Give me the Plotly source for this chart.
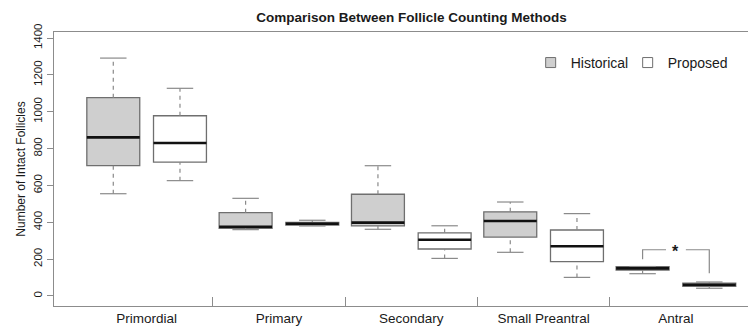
import plotly.graph_objects as go

categories = ["Primordial", "Primary", "Secondary", "Small Preantral", "Antral"]

hist_lower = [555, 360, 362, 237, 121]
hist_q1 = [707, 367, 380, 320, 141]
hist_median = [861, 376, 398, 407, 150]
hist_q3 = [1076, 452, 552, 457, 159]
hist_upper = [1291, 530, 707, 510, 160]

prop_lower = [626, 380, 204, 101, 42]
prop_q1 = [727, 385, 255, 186, 52]
prop_median = [830, 392, 305, 270, 61]
prop_q3 = [978, 400, 343, 358, 70]
prop_upper = [1127, 411, 381, 447, 76]

y_ticks = [0, 200, 400, 600, 800, 1000, 1200, 1400]

# significance bracket for Antral: left end, top, right end
sig_bracket = [199, 251, 123]
sig_label = "*"

FONT = "Liberation Sans, Arial, Helvetica, sans-serif"
EDGE = "#6f6f6f"
WHISK = "#8a8a8a"
FRAME = "#8c8c8c"
TEXT = "#1a1a1a"

OFF = 0.252
BW = 0.40
CAP = 0.10

# the page body adds an 8px offset; margins compensate for it
PAGE = 8

series = [
    ("Historical", "#cfcfcf", -OFF, "legend", hist_lower, hist_q1, hist_median, hist_q3, hist_upper),
    ("Proposed", "#ffffff", OFF, "legend2", prop_lower, prop_q1, prop_median, prop_q3, prop_upper),
]

fig = go.Figure()

for name, fill, off, leg, lo, q1, med, q3, up in series:
    pos = [i + off for i in range(len(categories))]
    wx, wy, cx, cy, mx, my = [], [], [], [], [], []
    for p, a, b, c, d, e in zip(pos, lo, q1, med, q3, up):
        wx += [p, p, None, p, p, None]
        wy += [a, b, None, d, e, None]
        cx += [p - CAP, p + CAP, None, p - CAP, p + CAP, None]
        cy += [a, a, None, e, e, None]
        mx += [p - BW / 2, p + BW / 2, None]
        my += [c, c, None]
    fig.add_trace(go.Scatter(x=wx, y=wy, mode="lines", showlegend=False, hoverinfo="skip",
                             line=dict(color=WHISK, width=1.2, dash="4px,4px")))
    fig.add_trace(go.Scatter(x=cx, y=cy, mode="lines", showlegend=False, hoverinfo="skip",
                             line=dict(color=WHISK, width=1.2)))
    fig.add_trace(go.Bar(x=pos, base=q1, y=[b - a for a, b in zip(q1, q3)], width=BW,
                         marker=dict(color=fill, line=dict(color=EDGE, width=1.3)),
                         showlegend=False, name=name))
    fig.add_trace(go.Scatter(x=mx, y=my, mode="lines", showlegend=False, hoverinfo="skip",
                             line=dict(color="#111111", width=2.6)))
    fig.add_trace(go.Scatter(x=[None], y=[None], mode="markers", name=name, legend=leg,
                             marker=dict(symbol="square", size=10, color=fill,
                                         line=dict(color=EDGE, width=1))))

ai = len(categories) - 1
gap = 0.075
bx = [ai - OFF, ai - OFF, ai - gap, None, ai + gap, ai + OFF, ai + OFF]
by = [sig_bracket[0], sig_bracket[1], sig_bracket[1], None, sig_bracket[1], sig_bracket[1], sig_bracket[2]]
fig.add_trace(go.Scatter(x=bx, y=by, mode="lines", showlegend=False, hoverinfo="skip",
                         line=dict(color=WHISK, width=1.2)))
fig.add_annotation(x=ai, y=sig_bracket[1], text="<b>" + sig_label + "</b>", showarrow=False,
                   font=dict(size=16, color=TEXT, family=FONT), yanchor="middle", yshift=-2)

legend_style = dict(orientation="h", xanchor="left", y=0.887, yanchor="middle",
                    font=dict(size=14, color=TEXT, family=FONT), bgcolor="rgba(0,0,0,0)",
                    itemwidth=30, tracegroupgap=0)

fig.update_layout(
    width=756, height=330, autosize=False,
    margin=dict(l=54 - PAGE, r=PAGE, t=32 - PAGE, b=24 + PAGE, autoexpand=False),
    paper_bgcolor="white", plot_bgcolor="white",
    font=dict(family=FONT, color=TEXT),
    barmode="overlay",
    title=dict(text="<b>Comparison Between Follicle Counting Methods</b>",
               x=(411.5 - PAGE) / 756, xref="container", xanchor="center",
               y=1 - (17 - PAGE) / 330, yref="container", yanchor="middle", automargin=False,
               font=dict(size=13.5, color=TEXT, family=FONT)),
    legend=dict(x=0.679, **legend_style),
    legend2=dict(x=0.679 + 97 / 702, **legend_style),
    xaxis=dict(range=[-0.70, 4.605], tickmode="array", tickvals=list(range(len(categories))),
               ticktext=categories, ticks="", showline=True, mirror=True, linecolor=FRAME,
               linewidth=1, showgrid=False, zeroline=False, automargin=False,
               tickfont=dict(size=13.5, color=TEXT, family=FONT),
               minor=dict(tickmode="array", tickvals=[i + 0.5 for i in range(len(categories) - 1)],
                          ticks="inside", ticklen=9, tickcolor=FRAME, tickwidth=1, showgrid=False)),
    yaxis=dict(range=[-54.3, 1432.6], tickmode="array", tickvals=y_ticks,
               ticks="outside", ticklen=6, tickcolor=FRAME, showline=True, mirror=False,
               linecolor=FRAME, linewidth=1, showgrid=False, zeroline=False, tickangle=-90,
               automargin=False,
               tickfont=dict(size=11.5, color=TEXT, family=FONT),
               title=dict(text="Number of Intact Follicles", font=dict(size=12, color=TEXT, family=FONT),
                          standoff=4)),
)

fig.write_html("out.html")
